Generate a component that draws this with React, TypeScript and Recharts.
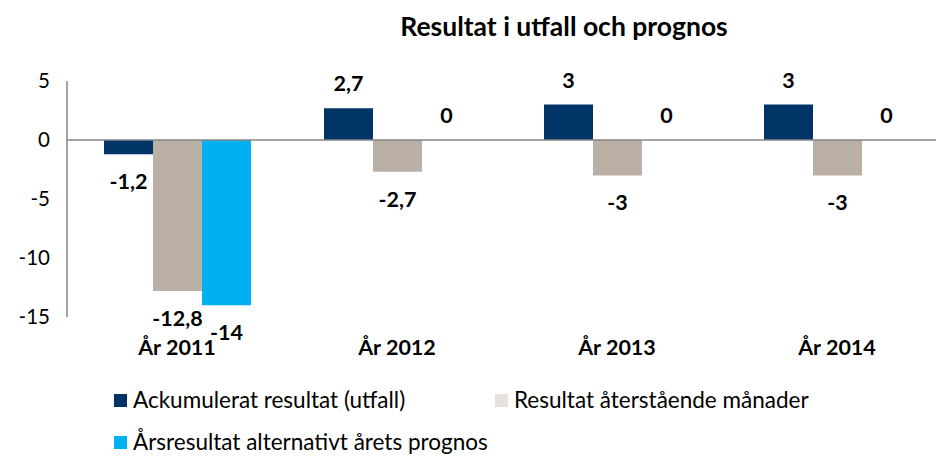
import React from "react";
import { BarChart, Bar, XAxis, YAxis, ReferenceLine, LabelList } from "recharts";

const categories = ["År 2011", "År 2012", "År 2013", "År 2014"];
const ackumulerat = [-1.2, 2.7, 3, 3];
const aterstaende = [-12.8, -2.7, -3, -3];
const arsresultat = [-14, 0, 0, 0];
const yTicks = [-15, -10, -5, 0, 5];

const series = [
  { key: "ack", name: "Ackumulerat resultat (utfall)", color: "#003366", swatch: "#003366" },
  { key: "ater", name: "Resultat återstående månader", color: "#BBB0A5", swatch: "#E8E0DA" },
  { key: "ars", name: "Årsresultat alternativt årets prognos", color: "#00B0F0", swatch: "#00B0F0" },
];

const data = categories.map((c, i) => ({
  name: c,
  ack: ackumulerat[i],
  ater: aterstaende[i],
  ars: arsresultat[i],
}));

const FONT = "Lato, 'Open Sans', sans-serif";

const fmt = (v: number) => String(v).replace(".", ",");

function ValueLabel(props: any) {
  const { x, y, width, height, value } = props;
  const top = Math.min(y, y + height);
  const bottom = Math.max(y, y + height);
  const ly = value >= 0 ? top - 25 : bottom + 27;
  return (
    <text
      x={x + width / 2}
      y={ly}
      textAnchor="middle"
      dominantBaseline="central"
      fontFamily={FONT}
      fontWeight={700}
      fontSize={21.5}
      fill="#000"
    >
      {fmt(value)}
    </text>
  );
}

function LegendBox() {
  const item = (s: (typeof series)[number]) => (
    <div key={s.key} style={{ display: "flex", alignItems: "center", height: 26, lineHeight: "26px" }}>
      <div style={{ width: 13, height: 13, background: s.swatch, marginRight: 6 }} />
      <span>{s.name}</span>
    </div>
  );
  return (
    <div style={{ fontFamily: FONT, fontSize: 22.5, color: "#000", position: "absolute", left: 0, top: 387, width: 936, height: 69 }}>
      <div style={{ position: "absolute", left: 114, top: 0 }}>{item(series[0])}</div>
      <div style={{ position: "absolute", left: 495, top: 0 }}>{item(series[1])}</div>
      <div style={{ position: "absolute", left: 114, top: 42 }}>{item(series[2])}</div>
    </div>
  );
}

// zero-value bars get a hair-thin height so their "0" label is still drawn
const thinForZero = (v: any) => (v === 0 ? 0.01 : 0);

export default function App() {
  return (
    <div style={{ position: "absolute", left: 0, top: 0, width: 936, height: 456, overflow: "hidden", background: "#fff" }}>
      <div
        style={{
          position: "absolute",
          left: 0,
          width: 936,
          top: 10,
          textAlign: "center",
          paddingLeft: 192,
          boxSizing: "border-box",
          fontFamily: FONT,
          fontWeight: 700,
          fontSize: 26.5,
        }}
      >
        Resultat i utfall och prognos
      </div>
      <BarChart
        width={960}
        height={456}
        data={data}
        margin={{ top: 81, right: 13, left: 0, bottom: 89 }}
        barGap={0}
        barSize={49}
      >
        <YAxis
          width={67}
          domain={[-15, 5]}
          ticks={yTicks}
          interval={0}
          tickLine={false}
          tickSize={0}
          tickMargin={17}
          axisLine={{ stroke: "#868686", strokeWidth: 1.5 }}
          tick={{ fontFamily: FONT, fontSize: 20.5, fill: "#000" }}
        />
        <XAxis
          dataKey="name"
          height={50}
          axisLine={false}
          tickLine={false}
          tickSize={0}
          tickMargin={23}
          interval={0}
          tick={{ fontFamily: FONT, fontSize: 21.5, fontWeight: 700, fill: "#000" }}
        />
        <ReferenceLine y={0} stroke="#868686" strokeWidth={1.5} />
        {series.map((s) => (
          <Bar
            key={s.key}
            dataKey={s.key}
            name={s.name}
            fill={s.color}
            minPointSize={thinForZero}
            isAnimationActive={false}
          >
            <LabelList dataKey={s.key} content={<ValueLabel />} />
          </Bar>
        ))}
      </BarChart>
      <LegendBox />
    </div>
  );
}
